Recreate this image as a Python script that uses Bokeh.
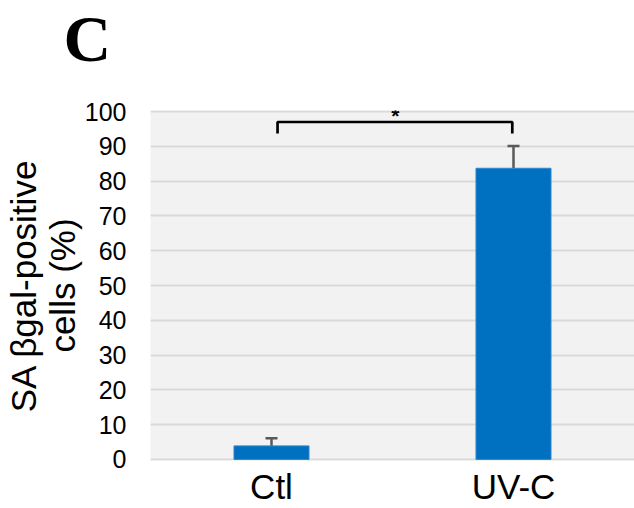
from bokeh.plotting import figure
from bokeh.models import ColumnDataSource, Range1d, Whisker, TeeHead, FixedTicker, Title
from bokeh.core.properties import value
from bokeh.embed import file_html
from bokeh.resources import INLINE

# SA beta-gal positive cells, mean and SD per condition
groups = ["Ctl", "UV-C"]
means = [3.9, 83.7]
sds = [2.2, 6.4]

y_ticks = [0, 10, 20, 30, 40, 50, 60, 70, 80, 90, 100]
y_title = "SA \u03b2gal-positive\ncells (%)"
panel_letter = "C"

# significance bracket between the two groups
bracket_low = 93.7
bracket_high = 97.0
star_label = "*"

FONT = "Liberation Sans"

p = figure(
    x_range=groups,
    y_range=Range1d(-0.3, 100.3),
    width=634,
    height=508,
    output_backend="svg",
    toolbar_location=None,
    min_border_left=150,
    min_border_right=0,
    min_border_top=110,
    min_border_bottom=47,
)

p.background_fill_color = "#f2f2f2"
p.border_fill_color = "white"
p.outline_line_color = None

# panel letter, lifted away from the frame by a blank spacer row
p.title.text = panel_letter
p.title.text_font = "Liberation Serif"
p.title.text_font_size = "66px"
p.title.text_font_style = "bold"
p.title.text_color = "black"
p.title.vertical_align = "top"
p.title.offset = -87
p.title.standoff = 0
p.add_layout(Title(text=" ", text_font_size="10px", standoff=21), "above")

src = ColumnDataSource(dict(
    group=groups,
    mean=means,
    upper=[m + s for m, s in zip(means, sds)],
))

p.vbar(x="group", top="mean", bottom=0, width=0.31, source=src,
       fill_color="#0070c0", line_color="#2f86d0", line_width=1)

p.add_layout(Whisker(
    source=src, base="group", lower="mean", upper="upper",
    line_color="#595959", line_width=2.5,
    upper_head=TeeHead(size=12, line_color="#595959", line_width=2.5),
    lower_head=None,
))

# bracket drawn with small categorical offsets toward the inner side
bx = [(groups[0], 0.025), (groups[0], 0.025), (groups[1], -0.005), (groups[1], -0.005)]
by = [bracket_low, bracket_high, bracket_high, bracket_low]
p.line(x=bx, y=by, line_color="black", line_width=2.7)

p.text(x=[(groups[1], -0.488)], y=[bracket_high + 1.9], text=[star_label],
       text_font=value(FONT), text_font_size="21px", text_font_style="bold",
       text_align="center", text_baseline="middle", text_color="black")

# axes
p.xaxis.major_label_text_font = FONT
p.xaxis.major_label_text_font_size = "35px"
p.xaxis.major_label_text_color = "black"
p.xaxis.major_label_standoff = 0
p.xaxis.axis_line_color = None
p.xaxis.major_tick_line_color = None
p.xaxis.minor_tick_line_color = None

p.yaxis.ticker = FixedTicker(ticks=y_ticks)
p.yaxis.major_label_text_font = FONT
p.yaxis.major_label_text_font_size = "25px"
p.yaxis.major_label_text_color = "black"
p.yaxis.major_label_standoff = 18
p.yaxis.axis_line_color = None
p.yaxis.major_tick_line_color = None
p.yaxis.minor_tick_line_color = None
p.yaxis.axis_label = y_title
p.yaxis.axis_label_text_font = FONT
p.yaxis.axis_label_text_font_size = "35px"
p.yaxis.axis_label_text_font_style = "normal"
p.yaxis.axis_label_text_color = "black"
p.yaxis.axis_label_text_line_height = 1.0
p.yaxis.axis_label_standoff = 0

p.xgrid.grid_line_color = None
p.ygrid.grid_line_color = "#d9d9d9"
p.ygrid.grid_line_width = 2

open("out.html", "w").write(file_html(p, INLINE))
